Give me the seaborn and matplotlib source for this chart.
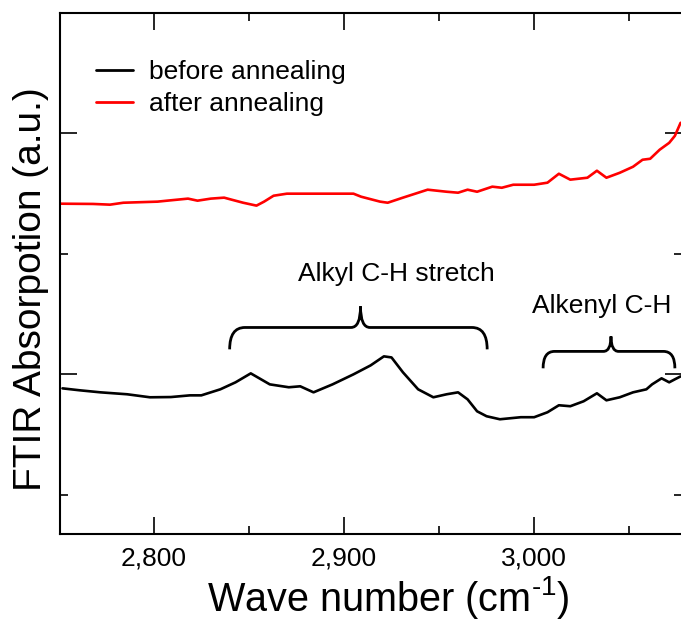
import numpy as np
import pandas as pd
import matplotlib
matplotlib.use("Agg")
import matplotlib.pyplot as plt
import seaborn as sns
from matplotlib.path import Path
from matplotlib.patches import PathPatch
from matplotlib.ticker import FuncFormatter, NullFormatter

# ---------------- data ----------------
wn_before = [2752, 2761, 2772, 2786, 2798, 2809, 2819, 2825, 2835, 2843,
             2851, 2861, 2871, 2877, 2884, 2894, 2905, 2914, 2921, 2925,
             2931, 2939, 2947, 2954, 2960, 2965, 2970, 2975, 2982, 2993,
             3000, 3007, 3013, 3019, 3026, 3033, 3038, 3045, 3052, 3059,
             3062, 3067, 3071, 3074, 3077]
abs_before = [0.1884, 0.1868, 0.1851, 0.1835, 0.1810, 0.1812, 0.1826, 0.1826, 0.1876, 0.1934,
              0.2008, 0.1917, 0.1893, 0.1901, 0.1851, 0.1917, 0.2000, 0.2074, 0.2149, 0.2140,
              0.2017, 0.1876, 0.1810, 0.1835, 0.1851, 0.1793, 0.1694, 0.1653, 0.1628, 0.1645,
              0.1645, 0.1686, 0.1744, 0.1736, 0.1777, 0.1843, 0.1785, 0.1810, 0.1851, 0.1876,
              0.1917, 0.1967, 0.1934, 0.1959, 0.1983]

wn_after = [2751, 2768, 2777, 2784, 2802, 2807, 2818, 2823, 2830, 2837,
            2841, 2847, 2854, 2858, 2863, 2870, 2886, 2905, 2909, 2919,
            2923, 2931, 2944, 2954, 2960, 2965, 2970, 2978, 2983, 2989,
            3000, 3007, 3013, 3019, 3028, 3033, 3038, 3045, 3052, 3057,
            3061, 3066, 3071, 3074, 3077]
abs_after = [0.3413, 0.3411, 0.3405, 0.3421, 0.3430, 0.3438, 0.3455, 0.3438, 0.3455, 0.3463,
             0.3446, 0.3421, 0.3397, 0.3430, 0.3479, 0.3496, 0.3496, 0.3496, 0.3471, 0.3430,
             0.3421, 0.3463, 0.3529, 0.3512, 0.3504, 0.3529, 0.3512, 0.3554, 0.3545, 0.3570,
             0.3570, 0.3587, 0.3661, 0.3612, 0.3628, 0.3686, 0.3628, 0.3669, 0.3719, 0.3777,
             0.3785, 0.3860, 0.3917, 0.3975, 0.4083]

series_names = ["before annealing", "after annealing"]
series_colors = ["black", "red"]
x_major = [2800, 2900, 3000]
x_minor = [2850, 2950, 3050]
y_major = [0.2, 0.4]
y_minor = [0.1, 0.3]
annot_labels = ["Alkyl C-H stretch", "Alkenyl C-H"]

df = pd.concat([
    pd.DataFrame({"wn": wn_before, "A": abs_before, "sample": series_names[0]}),
    pd.DataFrame({"wn": wn_after, "A": abs_after, "sample": series_names[1]}),
], ignore_index=True)

# ---------------- style ----------------
sns.set_style("ticks")
plt.rcParams["font.family"] = ["Liberation Sans", "DejaVu Sans"]
plt.rcParams.update({
    "axes.linewidth": 1.5,
    "text.color": "black",
    "axes.labelcolor": "black",
    "xtick.color": "black",
    "ytick.color": "black",
    "axes.edgecolor": "black",
})

fig = plt.figure(figsize=(6.81, 6.23), dpi=100)
ax = fig.add_axes([60 / 681, 89 / 623, 622.5 / 681, 521 / 623])

sns.lineplot(data=df, x="wn", y="A", hue="sample", palette=dict(zip(series_names, series_colors)),
             sort=False, estimator=None, linewidth=1.9, ax=ax)

ax.set_xlim(2750.7, 3078)
ax.set_ylim(0.0678, 0.4992)

ax.set_xticks(x_major)
ax.set_xticks(x_minor, minor=True)
ax.set_yticks(y_major)
ax.set_yticks(y_minor, minor=True)
ax.xaxis.set_major_formatter(FuncFormatter(lambda v, p: f"{v:,.0f}"))
ax.yaxis.set_major_formatter(NullFormatter())
ax.tick_params(which="both", direction="in", top=True, right=True, width=1.2, color="black")
ax.tick_params(which="major", length=12.2)
ax.tick_params(which="minor", length=5.8)
ax.tick_params(axis="x", which="major", labelsize=19, pad=9)
for s in ax.spines.values():
    s.set_visible(True)
    s.set_linewidth(1.5)
    s.set_color("black")

ax.set_xlabel("Wave number (cm$^{\\mathregular{\u20101}}$)", fontsize=28.5)
ax.xaxis.set_label_coords(0.527, -0.077)
ax.set_ylabel("FTIR Absorpotion (a.u.)", fontsize=28)
ax.yaxis.set_label_coords(-0.017, 0.47)

leg = ax.legend(loc="upper left", bbox_to_anchor=(0.058, 0.91), frameon=False, fontsize=19,
                handlelength=1.4, handletextpad=0.6, labelspacing=0.3, borderpad=0, borderaxespad=0)
for line in leg.get_lines():
    line.set_linewidth(2)

# ---------------- curly brackets ----------------
def brace(ax, x0, x1, xm, y_end, y_line, y_tip, rx, cx):
    verts = [(x0, y_end), (x0, y_line), (x0 + rx, y_line),
             (xm - cx, y_line), (xm, y_line), (xm, y_tip),
             (xm, y_line), (xm + cx, y_line),
             (x1 - rx, y_line), (x1, y_line), (x1, y_end)]
    codes = [Path.MOVETO, Path.CURVE3, Path.CURVE3,
             Path.LINETO, Path.CURVE3, Path.CURVE3,
             Path.CURVE3, Path.CURVE3,
             Path.LINETO, Path.CURVE3, Path.CURVE3]
    ax.add_patch(PathPatch(Path(verts, codes), fill=False, lw=2, color="black"))

brace(ax, 2839.9, 2975.3, 2908.7, 0.2207, 0.2388, 0.2562, 8, 5)
brace(ax, 3004.7, 3074.0, 3040.4, 0.2050, 0.2190, 0.2314, 6, 4)

ax.text(2927.6, 0.2769, annot_labels[0], ha="center", va="baseline", fontsize=19)
ax.text(3035.4, 0.2512, annot_labels[1], ha="center", va="baseline", fontsize=19)

fig.savefig("out.png", dpi=100)
